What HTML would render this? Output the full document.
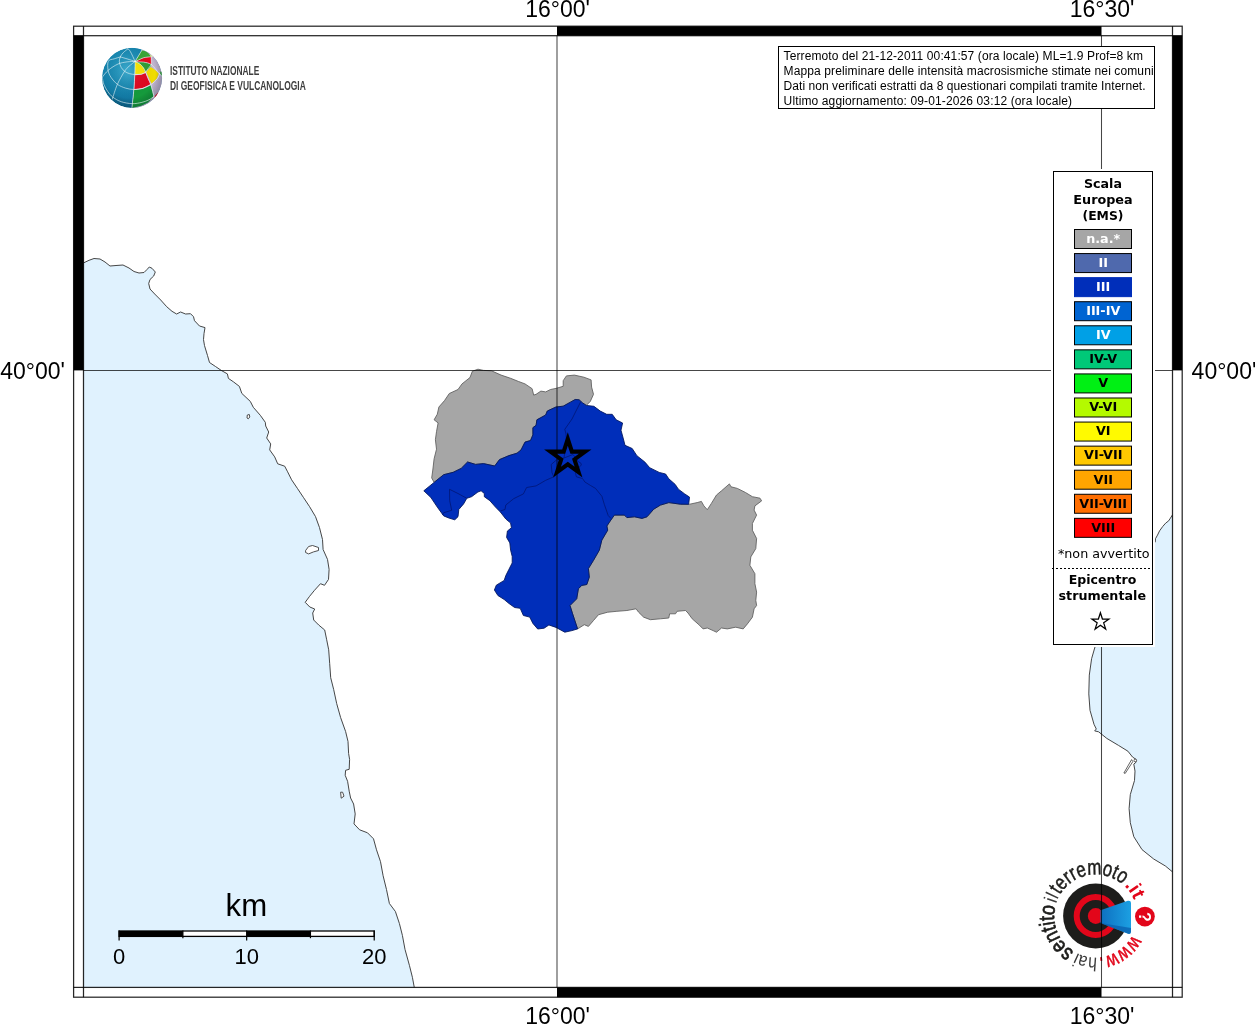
<!DOCTYPE html>
<html lang="it"><head><meta charset="utf-8"><title>Hai sentito il terremoto - Mappa delle intensità macrosismiche</title>
<style>
html,body{margin:0;padding:0;background:#fff;}
body{width:1255px;height:1024px;overflow:hidden;}
svg{display:block;}
text{font-family:"Liberation Sans",sans-serif;}
.dj{font-family:"DejaVu Sans",sans-serif;}
.djb{font-family:"DejaVu Sans",sans-serif;font-weight:bold;}
</style></head><body>
<svg width="1255" height="1024" viewBox="0 0 1255 1024">
<defs>
<clipPath id="mapclip"><rect x="83.5" y="35.7" width="1089.0" height="951.6999999999999"/></clipPath>
<clipPath id="globeclip"><circle cx="132" cy="77.9" r="30.1"/></clipPath>
<radialGradient id="gblue" cx="0.42" cy="0.35" r="0.75"><stop offset="0" stop-color="#2aa3c9"/><stop offset="0.55" stop-color="#147fa9"/><stop offset="1" stop-color="#095d86"/></radialGradient>
<linearGradient id="glil" x1="0" x2="1" y1="0" y2="0"><stop offset="0" stop-color="#d9d2e3"/><stop offset="1" stop-color="#b3a6c4"/></linearGradient>
<radialGradient id="gshade" cx="0.45" cy="0.4" r="0.62"><stop offset="0" stop-color="#fff" stop-opacity="0.10"/><stop offset="0.7" stop-color="#000" stop-opacity="0"/><stop offset="1" stop-color="#00202c" stop-opacity="0.28"/></radialGradient>
<linearGradient id="cone" x1="0" x2="1" y1="0" y2="0"><stop offset="0" stop-color="#0d6fc0"/><stop offset="1" stop-color="#1ca0e2"/></linearGradient>
</defs>
<rect width="1255" height="1024" fill="#fff"/>

<g clip-path="url(#mapclip)">
<path d="M83.6,262.9 L89.0,260.3 L94.0,258.5 L100.0,259.0 L105.0,262.0 L110.0,266.0 L116.0,265.5 L123.0,265.0 L129.0,268.0 L134.0,271.5 L139.0,273.0 L144.0,272.5 L147.0,269.5 L149.3,267.0 L152.0,268.3 L155.3,272.0 L153.7,276.0 L150.0,279.5 L148.7,283.5 L150.0,289.0 L154.7,294.0 L160.7,300.0 L166.7,306.7 L172.0,311.3 L176.6,314.0 L180.6,312.0 L185.6,314.0 L190.5,313.7 L193.5,316.7 L194.5,320.7 L199.5,326.0 L205.0,327.6 L204.0,333.6 L203.5,339.6 L204.5,345.6 L207.5,355.5 L209.5,362.5 L215.5,366.5 L221.4,370.5 L227.4,373.9 L228.4,378.4 L233.4,381.8 L239.4,386.4 L241.8,393.4 L250.3,401.4 L253.3,407.3 L260.3,415.3 L265.3,422.3 L265.7,426.0 L268.7,432.0 L266.7,438.0 L270.7,443.9 L269.7,449.9 L274.7,456.9 L277.7,463.8 L284.7,466.2 L287.6,471.8 L291.6,479.8 L297.6,488.7 L303.6,497.7 L309.6,506.7 L315.5,516.6 L319.5,527.6 L322.5,539.5 L323.1,549.5 L327.5,559.4 L329.1,569.4 L328.5,579.4 L324.5,585.3 L320.5,583.7 L314.5,590.3 L309.6,596.3 L305.2,602.3 L309.8,607.0 L314.7,609.0 L312.7,613.0 L313.7,620.0 L318.7,625.0 L324.7,630.0 L326.7,639.8 L328.7,649.8 L329.7,663.7 L330.7,677.7 L333.7,689.6 L336.7,703.6 L340.6,717.5 L345.6,731.5 L348.0,741.4 L348.6,753.4 L349.6,759.4 L349.2,769.3 L345.6,770.3 L345.2,775.3 L347.6,781.3 L349.2,791.2 L350.6,798.0 L353.6,804.0 L355.2,813.9 L354.0,823.9 L359.6,829.8 L367.5,832.8 L373.5,838.8 L376.5,849.8 L380.5,861.7 L383.1,875.7 L386.5,889.6 L389.4,903.5 L395.4,911.5 L399.4,923.5 L402.4,935.4 L405.0,949.4 L409.4,965.3 L412.4,977.3 L414.3,987.5 L82.5,988.4 L82.5,262.9Z" fill="#e0f2fe"/>
<path d="M1172.5,514.8 L1170.4,518.2 L1168.7,520.8 L1165.7,523.1 L1162.8,526.4 L1159.6,530.8 L1157.5,535.1 L1155.5,538.7 L1155.2,542.3 L1154.0,552.0 L1098.0,640.0 L1095.1,646.6 L1091.6,658.7 L1089.3,675.1 L1088.8,693.9 L1090.0,710.3 L1094.0,724.3 L1096.3,729.0 L1094.7,730.9 L1098.6,731.8 L1106.8,738.4 L1118.5,745.4 L1127.9,751.2 L1132.6,757.1 L1136.1,759.4 L1136.1,762.2 L1133.8,764.1 L1135.0,771.1 L1134.5,780.5 L1130.3,794.6 L1129.1,808.6 L1130.3,822.7 L1133.8,836.7 L1142.0,849.6 L1153.7,859.0 L1165.4,866.0 L1172.5,871.9 L1173.5,871.9Z" fill="#e0f2fe"/>
<path d="M83.6,262.9 L89.0,260.3 L94.0,258.5 L100.0,259.0 L105.0,262.0 L110.0,266.0 L116.0,265.5 L123.0,265.0 L129.0,268.0 L134.0,271.5 L139.0,273.0 L144.0,272.5 L147.0,269.5 L149.3,267.0 L152.0,268.3 L155.3,272.0 L153.7,276.0 L150.0,279.5 L148.7,283.5 L150.0,289.0 L154.7,294.0 L160.7,300.0 L166.7,306.7 L172.0,311.3 L176.6,314.0 L180.6,312.0 L185.6,314.0 L190.5,313.7 L193.5,316.7 L194.5,320.7 L199.5,326.0 L205.0,327.6 L204.0,333.6 L203.5,339.6 L204.5,345.6 L207.5,355.5 L209.5,362.5 L215.5,366.5 L221.4,370.5 L227.4,373.9 L228.4,378.4 L233.4,381.8 L239.4,386.4 L241.8,393.4 L250.3,401.4 L253.3,407.3 L260.3,415.3 L265.3,422.3 L265.7,426.0 L268.7,432.0 L266.7,438.0 L270.7,443.9 L269.7,449.9 L274.7,456.9 L277.7,463.8 L284.7,466.2 L287.6,471.8 L291.6,479.8 L297.6,488.7 L303.6,497.7 L309.6,506.7 L315.5,516.6 L319.5,527.6 L322.5,539.5 L323.1,549.5 L327.5,559.4 L329.1,569.4 L328.5,579.4 L324.5,585.3 L320.5,583.7 L314.5,590.3 L309.6,596.3 L305.2,602.3 L309.8,607.0 L314.7,609.0 L312.7,613.0 L313.7,620.0 L318.7,625.0 L324.7,630.0 L326.7,639.8 L328.7,649.8 L329.7,663.7 L330.7,677.7 L333.7,689.6 L336.7,703.6 L340.6,717.5 L345.6,731.5 L348.0,741.4 L348.6,753.4 L349.6,759.4 L349.2,769.3 L345.6,770.3 L345.2,775.3 L347.6,781.3 L349.2,791.2 L350.6,798.0 L353.6,804.0 L355.2,813.9 L354.0,823.9 L359.6,829.8 L367.5,832.8 L373.5,838.8 L376.5,849.8 L380.5,861.7 L383.1,875.7 L386.5,889.6 L389.4,903.5 L395.4,911.5 L399.4,923.5 L402.4,935.4 L405.0,949.4 L409.4,965.3 L412.4,977.3 L414.3,987.5" fill="none" stroke="#3c3c3c" stroke-width="0.95" stroke-linejoin="round"/>
<path d="M1172.5,514.8 L1170.4,518.2 L1168.7,520.8 L1165.7,523.1 L1162.8,526.4 L1159.6,530.8 L1157.5,535.1 L1155.5,538.7 L1155.2,542.3" fill="none" stroke="#3c3c3c" stroke-width="0.95" stroke-linejoin="round"/>
<path d="M1098.0,640.0 L1095.1,646.6 L1091.6,658.7 L1089.3,675.1 L1088.8,693.9 L1090.0,710.3 L1094.0,724.3 L1096.3,729.0 L1094.7,730.9 L1098.6,731.8 L1106.8,738.4 L1118.5,745.4 L1127.9,751.2 L1132.6,757.1 L1136.1,759.4 L1136.1,762.2 L1133.8,764.1 L1135.0,771.1 L1134.5,780.5 L1130.3,794.6 L1129.1,808.6 L1130.3,822.7 L1133.8,836.7 L1142.0,849.6 L1153.7,859.0 L1165.4,866.0 L1172.5,871.9" fill="none" stroke="#3c3c3c" stroke-width="0.95" stroke-linejoin="round"/>
<path d="M247.3,415.0 L249.3,414.5 L249.8,417.0 L248.3,418.8 L247.0,418.0Z" fill="#fff" stroke="#3c3c3c" stroke-width="0.9" stroke-linejoin="round"/>
<path d="M305.6,550.5 L308.6,546.5 L312.5,545.5 L318.5,547.5 L318.5,550.5 L313.5,551.9 L308.6,553.9 L305.6,552.5Z" fill="#fff" stroke="#3c3c3c" stroke-width="0.9" stroke-linejoin="round"/>
<path d="M340.6,792.2 L342.6,792.2 L344.0,796.2 L341.2,798.2Z" fill="#fff" stroke="#3c3c3c" stroke-width="0.9" stroke-linejoin="round"/>
<path d="M1131.6,759.6 L1123.9,773.0 L1125.2,773.4 L1132.8,761.6Z" fill="#fff" stroke="#3c3c3c" stroke-width="0.8" stroke-linejoin="round"/>
<circle cx="1135.3" cy="760.5" r="1.3" fill="#fff" stroke="#3c3c3c" stroke-width="0.8"/>
<path d="M478.0,369.2 L472.4,371.2 L470.0,377.5 L462.0,383.9 L458.0,389.5 L449.3,393.5 L444.5,400.6 L438.9,407.0 L437.3,414.2 L434.1,419.8 L438.1,422.9 L436.5,431.7 L435.4,439.7 L436.5,449.2 L434.1,458.8 L432.8,470.0 L431.7,477.9 L434.1,482.4 L443.7,474.7 L453.2,472.3 L461.2,468.4 L467.6,462.0 L475.6,464.4 L483.5,463.6 L494.7,466.0 L499.5,459.6 L509.0,455.6 L517.0,453.2 L521.0,450.0 L525.0,442.1 L530.5,440.5 L532.9,434.9 L532.9,427.7 L536.1,425.3 L536.9,419.8 L545.7,415.0 L547.3,411.0 L556.0,407.0 L563.2,406.2 L570.4,402.2 L575.2,399.5 L579.1,399.8 L582.3,402.7 L586.3,405.4 L590.3,401.4 L593.5,394.3 L591.6,387.1 L591.1,379.9 L583.9,377.2 L574.4,375.1 L566.4,375.9 L563.2,380.7 L563.2,386.3 L556.0,388.4 L550.5,389.5 L545.7,391.9 L540.9,391.1 L536.1,394.3 L533.7,395.1 L532.1,388.7 L525.0,383.9 L518.6,381.5 L510.6,378.3 L501.1,375.1 L491.5,370.8 L483.5,370.4Z" fill="#a6a6a6" stroke="#5c5c5c" stroke-width="0.85" stroke-linejoin="round"/>
<path d="M614.4,515.1 L624.4,515.1 L626.9,517.6 L634.5,516.8 L642.0,518.4 L647.0,516.8 L653.7,509.2 L660.4,505.1 L668.8,502.6 L680.5,504.2 L689.7,504.2 L697.2,502.6 L701.4,501.4 L703.9,505.9 L707.3,509.7 L711.4,503.4 L716.5,495.0 L721.5,490.8 L729.4,483.9 L731.0,486.8 L737.3,488.4 L745.5,492.5 L752.4,496.7 L760.0,498.2 L761.6,500.9 L754.9,505.9 L754.1,510.1 L756.6,515.1 L752.4,523.5 L752.4,530.2 L756.6,538.5 L755.8,548.6 L750.8,556.9 L749.9,565.3 L754.9,573.7 L754.9,583.7 L756.6,592.1 L755.8,600.4 L756.6,605.5 L754.1,608.8 L752.4,617.2 L747.4,623.9 L743.2,628.9 L735.7,627.2 L727.3,628.9 L721.5,628.0 L716.5,632.2 L713.1,630.6 L707.3,628.0 L703.1,628.9 L698.9,624.7 L692.2,618.8 L688.0,613.0 L685.5,610.5 L677.1,611.3 L675.5,613.8 L669.6,613.8 L668.8,618.0 L660.4,618.8 L650.4,619.7 L643.7,617.2 L638.6,612.2 L636.1,608.8 L626.9,610.5 L616.9,611.3 L607.7,612.2 L598.5,614.7 L593.5,620.5 L588.4,626.4 L584.3,624.7 L577.6,628.9 L572.6,613.8 L570.0,605.5 L576.7,598.8 L578.4,588.7 L581.8,585.4 L586.8,584.5 L589.3,577.0 L588.4,568.6 L593.5,560.3 L599.3,550.2 L601.8,540.2 L607.7,530.2 L606.9,526.0 L610.2,521.0Z" fill="#a6a6a6" stroke="#5c5c5c" stroke-width="0.85" stroke-linejoin="round"/>
<path d="M434.1,482.4 L443.7,474.7 L453.2,472.3 L461.2,468.4 L467.6,462.0 L475.6,464.4 L483.5,463.6 L494.7,466.0 L499.5,459.6 L509.0,455.6 L517.0,453.2 L521.0,450.0 L525.0,442.1 L530.5,440.5 L532.9,434.9 L532.9,427.7 L536.1,425.3 L536.9,419.8 L545.7,415.0 L547.3,411.0 L556.0,407.0 L563.2,406.2 L570.4,402.2 L575.2,399.5 L579.1,399.8 L582.3,402.7 L586.3,405.4 L593.9,406.3 L600.3,411.1 L606.7,414.3 L612.2,414.3 L616.2,419.8 L622.6,423.0 L621.0,430.2 L623.4,439.0 L625.0,445.3 L632.2,448.5 L636.9,455.7 L644.9,462.1 L649.7,467.7 L659.2,472.4 L665.6,474.0 L668.8,478.8 L675.2,484.4 L678.4,489.2 L684.7,493.9 L689.5,497.1 L688.7,504.3 L680.5,504.2 L668.8,502.6 L660.4,505.1 L653.7,509.2 L647.0,516.8 L642.0,518.4 L634.5,516.8 L626.9,517.6 L624.4,515.1 L614.4,515.1 L610.2,521.0 L606.9,526.0 L607.7,530.2 L601.8,540.2 L599.3,550.2 L593.5,560.3 L588.4,568.6 L589.3,577.0 L586.8,584.5 L581.8,585.4 L578.4,588.7 L576.7,598.8 L570.0,605.5 L572.6,613.8 L577.6,628.9 L572.0,630.6 L564.8,632.2 L556.0,627.4 L548.9,625.0 L544.1,628.2 L537.7,629.0 L532.9,623.4 L529.7,617.1 L523.4,615.5 L520.2,608.3 L514.6,607.5 L509.0,603.5 L504.2,599.5 L497.9,595.5 L494.4,590.0 L496.3,585.2 L504.2,580.4 L505.8,575.6 L509.0,569.2 L512.2,562.9 L512.2,556.5 L510.6,550.1 L509.8,542.9 L506.6,537.4 L507.4,531.0 L511.4,527.8 L510.6,523.0 L505.8,519.0 L500.3,511.9 L495.5,507.1 L489.9,500.7 L484.3,496.7 L484.3,493.5 L481.1,490.8 L477.9,492.0 L471.6,496.7 L466.8,498.3 L463.6,503.9 L458.8,509.5 L458.0,516.7 L454.8,519.8 L449.3,518.2 L443.7,515.9 L437.3,507.1 L430.9,497.5 L423.8,490.8Z" fill="#002eba" stroke="#00145a" stroke-width="0.85" stroke-linejoin="round"/>
<path d="M580.7,401.8 L576.0,411.0 L572.0,419.0 L564.8,429.3 L566.0,434.0 L566.5,442.0 L565.0,450.0 L564.0,458.0" fill="none" stroke="#001470" stroke-width="0.75" stroke-linejoin="round"/>
<path d="M564.0,458.0 L557.0,459.5 L551.2,464.5 L552.0,472.7 L553.8,476.8 L545.7,480.3 L536.1,485.9 L526.6,487.5 L523.4,493.9 L513.8,498.6 L505.8,505.0 L505.0,509.5 L500.3,511.0" fill="none" stroke="#001470" stroke-width="0.75" stroke-linejoin="round"/>
<path d="M564.0,458.0 L573.0,454.5 L578.4,461.6 L581.0,463.3 L581.3,465.0 L579.0,467.4 L575.5,473.3 L576.4,476.8 L582.5,478.5 L584.9,482.0 L590.7,485.6 L595.5,488.4 L601.9,496.3 L604.3,504.3 L608.2,515.5 L611.0,518.5" fill="none" stroke="#001470" stroke-width="0.75" stroke-linejoin="round"/>
<path d="M449.5,489.3 L449.7,500.7 L451.7,510.3 L443.7,512.7 L442.5,515.0" fill="none" stroke="#001470" stroke-width="0.75" stroke-linejoin="round"/>
<path d="M449.5,489.3 L458.0,493.5 L466.8,498.3" fill="none" stroke="#001470" stroke-width="0.75" stroke-linejoin="round"/>
<path d="M567.80,439.00 L571.91,451.64 L585.20,451.64 L574.45,459.46 L578.56,472.11 L567.80,464.29 L557.04,472.11 L561.15,459.46 L550.40,451.64 L563.69,451.64Z" fill="none" stroke="#000" stroke-width="4.1" stroke-linejoin="miter"/>
</g>
<g id="ingv">
<g clip-path="url(#globeclip)">
<circle cx="132" cy="77.9" r="30.1" fill="url(#gblue)"/>
<path d="M135.1,61.4 L141.9,50.2 L145.1,46.9 L164.5,46.9 L164.5,109.5 L130.9,109.5 L131.9,107.8 L133.8,89.5 L134.8,74.0Z" fill="url(#glil)"/>
<path d="M135.1,61.4 L141.9,50.2 L146.4,51.4 L150.0,54.7 L151.0,56.7 L143.8,57.7 L137.1,60.7Z" fill="#3aa537"/>
<path d="M149.8,54.5 L152.5,56.5 L151.2,57.0Z" fill="#f3e500"/>
<path d="M135.1,61.4 L137.1,60.7 L143.8,57.7 L151.0,56.7 L151.4,64.5 L147.7,62.9 L143.8,62.1 L138.7,61.9Z" fill="#e30a1e"/>
<path d="M135.1,61.4 L138.7,61.9 L143.8,62.1 L147.7,62.9 L151.4,64.7 L150.3,67.0 L145.6,71.9 L143.3,67.7 L140.3,64.3Z" fill="#2f9e36"/>
<path d="M135.1,61.4 L140.3,64.3 L143.3,67.7 L145.3,72.2 L141.3,74.1 L135.1,74.5 L135.0,67.6Z" fill="#f7e600"/>
<path d="M146.1,72.1 L150.9,66.9 L154.8,69.8 L158.8,73.4 L156.8,78.6 L151.6,83.8 L149.0,78.2Z" fill="#f0dc00"/>
<path d="M134.9,75.3 L141.3,74.8 L145.5,73.1 L148.0,78.5 L150.4,84.3 L142.7,88.0 L134.2,89.2 L134.6,82.4Z" fill="#e10820"/>
<path d="M134.0,90.1 L142.7,88.9 L150.7,85.3 L152.2,90.8 L153.6,96.6 L148.0,102.4 L141.3,105.7 L132.0,108.0 L133.0,99.8Z" fill="#159a3c"/>
<path d="M160.3,71.3 L162.8,72.7 L162.8,77.2 L160.1,74.1Z" fill="#2f9e36"/>
<path d="M154.3,96.6 L158.0,92.4 L159.9,92.4 L154.8,98.5Z" fill="#e10820"/>
<circle cx="132" cy="77.9" r="30.1" fill="url(#gshade)"/>
<path d="M135.13,61.44 C135.07,63.53 135.02,69.33 134.81,74.00 C134.59,78.68 134.32,83.83 133.84,89.47 C133.35,95.11 132.23,104.78 131.90,107.84" fill="none" stroke="#eef8fa" stroke-width="0.6" stroke-linecap="round"/>
<path d="M135.13,61.44 C136.26,59.56 140.77,52.04 141.89,50.16" fill="none" stroke="#eef8fa" stroke-width="0.6" stroke-linecap="round"/>
<path d="M135.13,61.44 C135.99,61.92 138.73,62.99 140.28,64.34 C141.84,65.68 143.18,67.13 144.47,69.49 C145.76,71.86 146.94,75.94 148.02,78.52 C149.09,81.09 149.90,81.85 150.92,84.96 C151.94,88.08 153.60,95.17 154.14,97.21" fill="none" stroke="#eef8fa" stroke-width="0.6" stroke-linecap="round"/>
<path d="M135.13,61.44 C135.72,61.51 137.22,61.77 138.67,61.89 C140.12,62.01 141.71,61.69 143.83,62.14 C145.94,62.60 148.85,62.72 151.37,64.59 C153.89,66.46 157.17,71.42 158.98,73.36 C160.78,75.30 161.66,75.78 162.20,76.26" fill="none" stroke="#eef8fa" stroke-width="0.6" stroke-linecap="round"/>
<path d="M135.13,61.44 C135.45,61.31 135.61,61.29 137.06,60.66 C138.51,60.04 141.47,58.35 143.83,57.70 C146.19,57.04 150.01,56.89 151.24,56.73" fill="none" stroke="#eef8fa" stroke-width="0.6" stroke-linecap="round"/>
<path d="M151.24,56.73 C151.26,58.04 151.35,63.28 151.37,64.59" fill="none" stroke="#eef8fa" stroke-width="0.6" stroke-linecap="round"/>
<path d="M151.37,64.59 C150.41,65.82 146.59,70.72 145.63,71.94" fill="none" stroke="#eef8fa" stroke-width="0.6" stroke-linecap="round"/>
<path d="M149.76,54.54 C150.22,54.86 152.07,56.15 152.53,56.47" fill="none" stroke="#eef8fa" stroke-width="0.6" stroke-linecap="round"/>
<path d="M135.13,61.44 C134.32,59.77 131.53,53.59 130.29,51.45 C129.06,49.30 128.14,49.03 127.72,48.54" fill="none" stroke="#eef8fa" stroke-width="0.6" stroke-linecap="round"/>
<path d="M135.13,61.44 C133.78,61.01 129.54,59.61 127.07,58.86 C124.60,58.11 121.43,57.25 120.30,56.92" fill="none" stroke="#eef8fa" stroke-width="0.6" stroke-linecap="round"/>
<path d="M135.13,61.44 C133.78,61.51 129.92,61.46 127.07,61.89 C124.22,62.32 121.16,62.64 118.05,64.01 C114.93,65.39 111.01,67.93 108.38,70.14 C105.75,72.34 103.28,76.05 102.26,77.23" fill="none" stroke="#eef8fa" stroke-width="0.6" stroke-linecap="round"/>
<path d="M135.13,61.44 C134.11,62.24 130.78,64.60 129.00,66.27 C127.23,67.93 126.43,68.42 124.49,71.43 C122.56,74.43 119.44,79.70 117.40,84.32 C115.36,88.94 113.11,96.67 112.25,99.14" fill="none" stroke="#eef8fa" stroke-width="0.6" stroke-linecap="round"/>
<path d="M127.72,49.00 C126.96,49.62 124.44,51.41 123.20,52.73 C121.97,54.06 120.95,55.42 120.30,56.92 C119.66,58.43 119.17,59.99 119.34,61.76 C119.50,63.53 120.36,65.95 121.27,67.56 C122.18,69.17 123.42,70.41 124.81,71.43 C126.21,72.45 127.93,73.18 129.65,73.68 C131.37,74.19 133.19,74.38 135.13,74.46 C137.06,74.53 139.53,74.48 141.25,74.13 C142.97,73.79 144.74,72.68 145.44,72.39" fill="none" stroke="#eef8fa" stroke-width="0.6" stroke-linecap="round"/>
<path d="M120.30,56.92 C119.28,57.25 116.17,58.16 114.18,58.86 C112.19,59.56 109.40,59.23 108.38,61.11 C107.36,62.99 107.63,67.45 108.06,70.14 C108.49,72.82 109.40,74.86 110.96,77.23 C112.51,79.59 114.93,82.49 117.40,84.32 C119.87,86.14 123.04,87.32 125.78,88.18 C128.52,89.04 131.05,89.45 133.84,89.47 C136.63,89.49 139.69,89.15 142.54,88.31 C145.39,87.48 148.45,86.06 150.92,84.45 C153.39,82.83 155.91,80.49 157.36,78.64 C158.81,76.80 159.24,74.24 159.62,73.36" fill="none" stroke="#eef8fa" stroke-width="0.6" stroke-linecap="round"/>
<path d="M102.26,77.23 C102.52,78.41 102.95,81.95 103.87,84.32 C104.78,86.68 106.23,89.26 107.73,91.41 C109.24,93.56 110.63,95.49 112.89,97.21 C115.15,98.93 118.05,100.65 121.27,101.72 C124.49,102.79 128.79,103.55 132.23,103.65 C135.66,103.76 139.10,103.01 141.89,102.36 C144.69,101.72 147.00,100.75 148.98,99.79 C150.97,98.82 153.01,97.10 153.82,96.56" fill="none" stroke="#eef8fa" stroke-width="0.6" stroke-linecap="round"/>
</g>
<text x="170" y="75.0" font-size="13.2" fill="#3e3e3e" textLength="89.3" lengthAdjust="spacingAndGlyphs" font-weight="bold">ISTITUTO NAZIONALE</text>
<text x="170" y="89.8" font-size="13.2" fill="#3e3e3e" textLength="135.8" lengthAdjust="spacingAndGlyphs" font-weight="bold">DI GEOFISICA E VULCANOLOGIA</text>
</g>
<g id="hsit">
<circle cx="1095.7" cy="916.0" r="32.6" fill="#1d1d1b"/>
<circle cx="1095.7" cy="916.0" r="19" fill="none" stroke="#e2061a" stroke-width="6"/>
<circle cx="1095.7" cy="916.0" r="7.9" fill="#e2061a"/>
<path d="M1100.5,910.3 L1127.8,900.8 Q1131,900.3 1131,903 L1131,931.5 Q1131,934.5 1128.2,933.8 L1100.5,923 Z" fill="url(#cone)"/>
<path d="M1100.5,923 L1131,928 L1131,931.5 Q1131,934.5 1128.2,933.8 Z" fill="#0a5fae" opacity="0.75"/>
<circle cx="1144.9" cy="916.6" r="9.9" fill="#e2061a"/>
<text transform="translate(1139.3,916.8) rotate(90)" font-size="16" font-weight="bold" fill="#fff" text-anchor="middle">?</text>
<path id="hsitc" d="M1137.2,916.0 A41.5,41.5 0 1 1 1054.2,916.0 A41.5,41.5 0 1 1 1137.2,916.0 A41.5,41.5 0 1 1 1054.2,916.0" fill="none"/>
<text font-size="20.5" fill="#e2061a" font-weight="normal" stroke="#e2061a" stroke-width="0.5" textLength="36.9" lengthAdjust="spacingAndGlyphs"><textPath href="#hsitc" startOffset="19.6">www</textPath></text>
<text font-size="24" fill="#e2061a" font-weight="bold" textLength="3.6" lengthAdjust="spacingAndGlyphs"><textPath href="#hsitc" startOffset="57.9">.</textPath></text>
<text font-size="19" fill="#3a3a3a" font-weight="normal" textLength="21.0" lengthAdjust="spacingAndGlyphs"><textPath href="#hsitc" startOffset="63.7">hai</textPath></text>
<text font-size="22" fill="#1d1d1b" font-weight="normal" stroke="#1d1d1b" stroke-width="0.7" textLength="52.9" lengthAdjust="spacingAndGlyphs"><textPath href="#hsitc" startOffset="87.6">sentito</textPath></text>
<text font-size="19" fill="#3a3a3a" font-weight="normal" textLength="8.3" lengthAdjust="spacingAndGlyphs"><textPath href="#hsitc" startOffset="142.3">il</textPath></text>
<text font-size="21.5" fill="#1d1d1b" font-weight="normal" stroke="#1d1d1b" stroke-width="0.5" textLength="72.4" lengthAdjust="spacingAndGlyphs"><textPath href="#hsitc" startOffset="152.1">terremoto</textPath></text>
<text font-size="19.5" fill="#e2061a" font-weight="bold" textLength="17.4" lengthAdjust="spacingAndGlyphs"><textPath href="#hsitc" startOffset="226.7">.it</textPath></text>
</g>
<line x1="557.0" y1="35.7" x2="557.0" y2="987.4" stroke="#000" stroke-width="1.05" opacity="0.72"/>
<line x1="1101.5" y1="35.7" x2="1101.5" y2="987.4" stroke="#000" stroke-width="1.05" opacity="0.72"/>
<line x1="83.5" y1="370.4" x2="1172.5" y2="370.4" stroke="#000" stroke-width="1.05" opacity="0.72"/>
<rect x="557.0" y="26.2" width="544.5" height="9.500000000000004" fill="#000"/>
<rect x="557.0" y="987.4" width="544.5" height="9.800000000000068" fill="#000"/>
<rect x="73.6" y="35.7" width="9.900000000000006" height="334.7" fill="#000"/>
<rect x="1172.5" y="35.7" width="9.700000000000045" height="334.7" fill="#000"/>
<rect x="73.6" y="26.2" width="1108.6000000000001" height="971.0" fill="none" stroke="#000" stroke-width="1.25" opacity="0.85"/>
<rect x="83.5" y="35.7" width="1089.0" height="951.6999999999999" fill="none" stroke="#000" stroke-width="1.25" opacity="0.85"/>
<line x1="83.5" y1="26.2" x2="83.5" y2="35.7" stroke="#000" stroke-width="1.25" opacity="0.85"/>
<line x1="1172.5" y1="26.2" x2="1172.5" y2="35.7" stroke="#000" stroke-width="1.25" opacity="0.85"/>
<line x1="83.5" y1="987.4" x2="83.5" y2="997.2" stroke="#000" stroke-width="1.25" opacity="0.85"/>
<line x1="1172.5" y1="987.4" x2="1172.5" y2="997.2" stroke="#000" stroke-width="1.25" opacity="0.85"/>
<line x1="73.6" y1="35.7" x2="83.5" y2="35.7" stroke="#000" stroke-width="1.25" opacity="0.85"/>
<line x1="73.6" y1="987.4" x2="83.5" y2="987.4" stroke="#000" stroke-width="1.25" opacity="0.85"/>
<line x1="1172.5" y1="35.7" x2="1182.2" y2="35.7" stroke="#000" stroke-width="1.25" opacity="0.85"/>
<line x1="1172.5" y1="987.4" x2="1182.2" y2="987.4" stroke="#000" stroke-width="1.25" opacity="0.85"/>
<text x="557.6" y="16.7" font-size="23" text-anchor="middle">16°00'</text>
<text x="1102.1" y="16.7" font-size="23" text-anchor="middle">16°30'</text>
<text x="557.6" y="1023.5" font-size="23" text-anchor="middle">16°00'</text>
<text x="1102.1" y="1023.5" font-size="23" text-anchor="middle">16°30'</text>
<text x="65" y="379.2" font-size="23" text-anchor="end">40°00'</text>
<text x="1191.6" y="379.2" font-size="23">40°00'</text>
<text x="246.4" y="915.6" font-size="31.2" text-anchor="middle">km</text>
<rect x="119.1" y="931" width="255.12" height="5.4" fill="#fff" stroke="#000" stroke-width="1.3"/>
<rect x="119.1" y="931" width="63.78" height="5.4" fill="#000"/>
<rect x="246.66" y="931" width="63.78" height="5.4" fill="#000"/>
<line x1="182.88" y1="930.5" x2="182.88" y2="938.2" stroke="#000" stroke-width="1.2"/>
<line x1="310.44" y1="930.5" x2="310.44" y2="938.2" stroke="#000" stroke-width="1.2"/>
<line x1="119.1" y1="930.5" x2="119.1" y2="940.5" stroke="#000" stroke-width="1.2"/>
<text x="119.1" y="964.2" font-size="22" text-anchor="middle">0</text>
<line x1="246.66" y1="930.5" x2="246.66" y2="940.5" stroke="#000" stroke-width="1.2"/>
<text x="246.66" y="964.2" font-size="22" text-anchor="middle">10</text>
<line x1="374.22" y1="930.5" x2="374.22" y2="940.5" stroke="#000" stroke-width="1.2"/>
<text x="374.22" y="964.2" font-size="22" text-anchor="middle">20</text>
<rect x="778.5" y="46.5" width="376" height="62" fill="#fff" stroke="#000" stroke-width="1"/>
<text x="783.6" y="59.90" font-size="12" textLength="359.3" lengthAdjust="spacing">Terremoto del 21-12-2011 00:41:57 (ora locale) ML=1.9 Prof=8 km</text>
<text x="783.6" y="74.77" font-size="12" textLength="370" lengthAdjust="spacing">Mappa preliminare delle intensità macrosismiche stimate nei comuni</text>
<text x="783.6" y="89.64" font-size="12" textLength="362" lengthAdjust="spacing">Dati non verificati estratti da 8 questionari compilati tramite Internet.</text>
<text x="783.6" y="104.51" font-size="12" textLength="288.5" lengthAdjust="spacing">Ultimo aggiornamento: 09-01-2026 03:12 (ora locale)</text>
<rect x="1051" y="169" width="104" height="478" fill="#fff"/>
<rect x="1053.5" y="171.5" width="99" height="473" fill="#fff" stroke="#000" stroke-width="1"/>
<text class="djb" x="1103" y="188.3" font-size="12" text-anchor="middle" textLength="38" lengthAdjust="spacingAndGlyphs">Scala</text>
<text class="djb" x="1103" y="203.9" font-size="12" text-anchor="middle" textLength="59.3" lengthAdjust="spacingAndGlyphs">Europea</text>
<text class="djb" x="1103" y="219.5" font-size="12" text-anchor="middle" textLength="41" lengthAdjust="spacingAndGlyphs">(EMS)</text>
<rect x="1074.5" y="229.50" width="57" height="19" fill="#a6a6a6" stroke="#000" stroke-width="1"/>
<text class="djb" transform="translate(1103.2,242.85) scale(1.1,1)" font-size="11.6" fill="#fff" text-anchor="middle">n.a.*</text>
<rect x="1074.5" y="253.57" width="57" height="19" fill="#4f69ad" stroke="#000" stroke-width="1"/>
<text class="djb" transform="translate(1103.2,266.92) scale(1.1,1)" font-size="11.6" fill="#fff" text-anchor="middle">II</text>
<rect x="1074.5" y="277.64" width="57" height="19" fill="#002eba" stroke="#002eba" stroke-width="1"/>
<text class="djb" transform="translate(1103.2,290.99) scale(1.1,1)" font-size="11.6" fill="#fff" text-anchor="middle">III</text>
<rect x="1074.5" y="301.71" width="57" height="19" fill="#0064d2" stroke="#000" stroke-width="1"/>
<text class="djb" transform="translate(1103.2,315.06) scale(1.1,1)" font-size="11.6" fill="#fff" text-anchor="middle">III-IV</text>
<rect x="1074.5" y="325.78" width="57" height="19" fill="#00a0e6" stroke="#000" stroke-width="1"/>
<text class="djb" transform="translate(1103.2,339.13) scale(1.1,1)" font-size="11.6" fill="#fff" text-anchor="middle">IV</text>
<rect x="1074.5" y="349.85" width="57" height="19" fill="#00c878" stroke="#000" stroke-width="1"/>
<text class="djb" transform="translate(1103.2,363.20) scale(1.1,1)" font-size="11.6" fill="#000" text-anchor="middle">IV-V</text>
<rect x="1074.5" y="373.92" width="57" height="19" fill="#00f014" stroke="#000" stroke-width="1"/>
<text class="djb" transform="translate(1103.2,387.27) scale(1.1,1)" font-size="11.6" fill="#000" text-anchor="middle">V</text>
<rect x="1074.5" y="397.99" width="57" height="19" fill="#b4fa00" stroke="#000" stroke-width="1"/>
<text class="djb" transform="translate(1103.2,411.34) scale(1.1,1)" font-size="11.6" fill="#000" text-anchor="middle">V-VI</text>
<rect x="1074.5" y="422.06" width="57" height="19" fill="#fffa00" stroke="#000" stroke-width="1"/>
<text class="djb" transform="translate(1103.2,435.41) scale(1.1,1)" font-size="11.6" fill="#000" text-anchor="middle">VI</text>
<rect x="1074.5" y="446.13" width="57" height="19" fill="#ffc800" stroke="#000" stroke-width="1"/>
<text class="djb" transform="translate(1103.2,459.48) scale(1.1,1)" font-size="11.6" fill="#000" text-anchor="middle">VI-VII</text>
<rect x="1074.5" y="470.20" width="57" height="19" fill="#ffa500" stroke="#000" stroke-width="1"/>
<text class="djb" transform="translate(1103.2,483.55) scale(1.1,1)" font-size="11.6" fill="#000" text-anchor="middle">VII</text>
<rect x="1074.5" y="494.27" width="57" height="19" fill="#ff6e00" stroke="#000" stroke-width="1"/>
<text class="djb" transform="translate(1103.2,507.62) scale(1.1,1)" font-size="11.6" fill="#000" text-anchor="middle">VII-VIII</text>
<rect x="1074.5" y="518.34" width="57" height="19" fill="#ff0000" stroke="#000" stroke-width="1"/>
<text class="djb" transform="translate(1103.2,531.69) scale(1.1,1)" font-size="11.6" fill="#000" text-anchor="middle">VIII</text>
<text class="dj" x="1103.7" y="557.9" font-size="12" text-anchor="middle" textLength="91.5" lengthAdjust="spacingAndGlyphs">*non avvertito</text>
<line x1="1052" y1="568.5" x2="1151" y2="568.5" stroke="#000" stroke-width="1" stroke-dasharray="2 2"/>
<text class="djb" x="1102.5" y="583.7" font-size="12" text-anchor="middle" textLength="67.5" lengthAdjust="spacingAndGlyphs">Epicentro</text>
<text class="djb" x="1102.3" y="599.7" font-size="12" text-anchor="middle" textLength="87.5" lengthAdjust="spacingAndGlyphs">strumentale</text>
<path d="M1100.40,612.80 L1102.42,619.02 L1108.96,619.02 L1103.67,622.86 L1105.69,629.08 L1100.40,625.24 L1095.11,629.08 L1097.13,622.86 L1091.84,619.02 L1098.38,619.02Z" fill="#fff" stroke="#000" stroke-width="1.25"/>
</svg></body></html>
